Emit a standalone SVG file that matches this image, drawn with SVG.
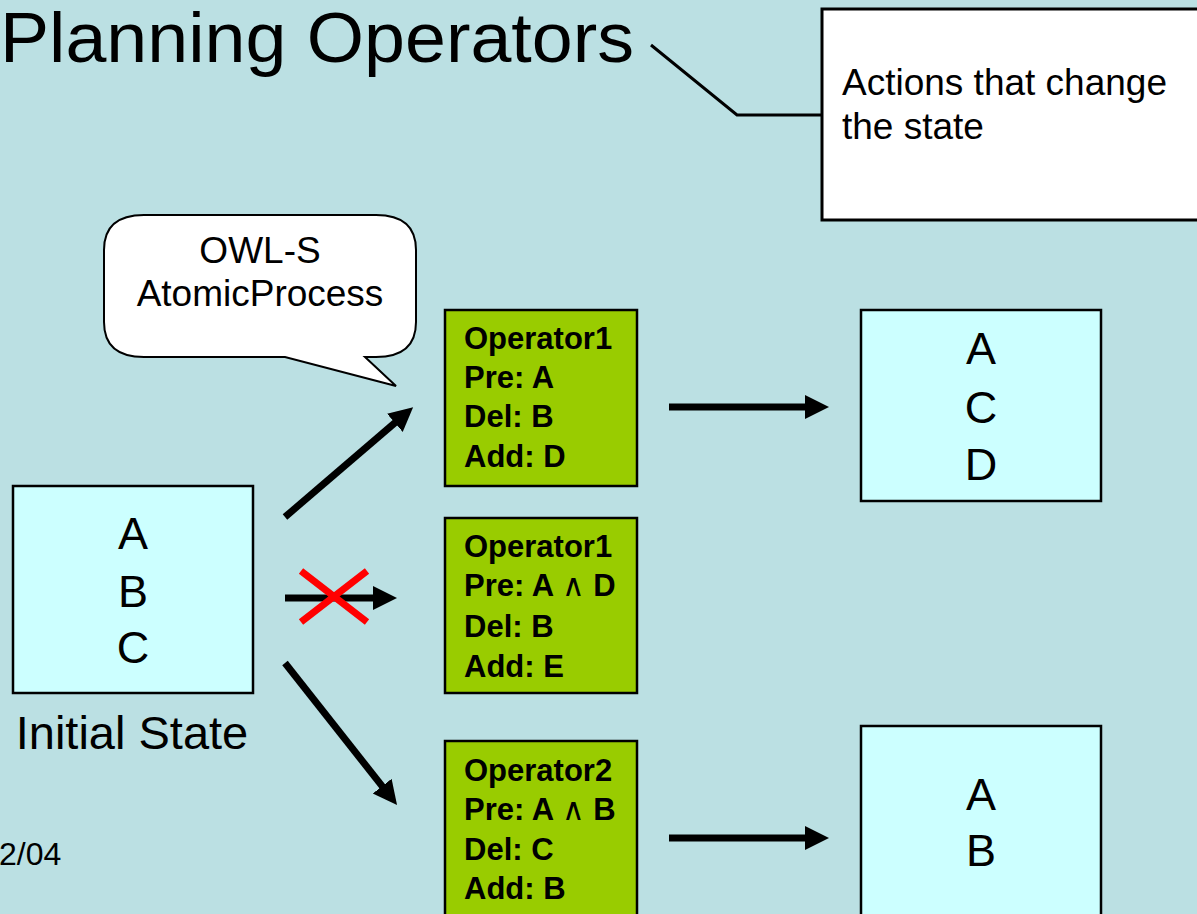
<svg xmlns="http://www.w3.org/2000/svg" width="1197" height="914" viewBox="0 0 1197 914">
<style>
.t{font-family:"Liberation Sans",Arial,sans-serif;fill:#000}
.op{font-family:"Liberation Sans",Arial,sans-serif;font-weight:bold;font-size:31px;fill:#000}
.sym{font-weight:normal}
.st{fill:#ccffff;stroke:#000;stroke-width:2.5}
.opbox{fill:#99cc00;stroke:#000;stroke-width:2.5}
.arr{stroke:#000;stroke-width:7;fill:none;marker-end:url(#ah)}
.big{font-size:45px;text-anchor:middle}
</style>
<defs>
<marker id="ah" markerUnits="userSpaceOnUse" markerWidth="26" markerHeight="26" refX="12" refY="12" orient="auto">
<path d="M0,0 L24,12 L0,24 Z" fill="#000"/>
</marker>
</defs>
<rect width="1197" height="914" fill="#bbe0e3"/>
<g id="title">
<text class="t" x="0" y="62" font-size="70" textLength="634" lengthAdjust="spacingAndGlyphs">Planning Operators</text>
</g>
<g id="callout-actions">
<polyline points="651,45 737,115 822,115" fill="none" stroke="#000" stroke-width="3"/>
<rect x="822" y="9" width="390" height="211" fill="#fff" stroke="#000" stroke-width="3"/>
<text class="t" x="842" y="95" font-size="37">Actions that change</text>
<text class="t" x="842" y="139" font-size="37">the state</text>
</g>
<g id="bubble-owls">
<path d="M144,215 H376 Q416,215 416,250 V322 Q416,357 376,357 H365 L396,386 L285,357 H144 Q104,357 104,322 V250 Q104,215 144,215 Z" fill="#fff" stroke="#000" stroke-width="2"/>
<text class="t" x="260" y="263" font-size="37" text-anchor="middle">OWL-S</text>
<text class="t" x="260" y="306" font-size="37" text-anchor="middle">AtomicProcess</text>
</g>
<g id="initial-state">
<rect class="st" x="13" y="486" width="240" height="207"/>
<text class="t big" x="133" y="549">A</text>
<text class="t big" x="133" y="607">B</text>
<text class="t big" x="133" y="663">C</text>
<text class="t" x="132" y="749" font-size="47" text-anchor="middle">Initial State</text>
</g>
<g id="op1a">
<rect class="opbox" x="445" y="310" width="192" height="176"/>
<text class="op" x="464" y="349">Operator1</text>
<text class="op" x="464" y="388">Pre: A</text>
<text class="op" x="464" y="427">Del: B</text>
<text class="op" x="464" y="467">Add: D</text>
</g>
<g id="op1b">
<rect class="opbox" x="445" y="518" width="192" height="175"/>
<text class="op" x="464" y="557">Operator1</text>
<text class="op" x="464" y="596">Pre: A <tspan class="sym">∧</tspan> D</text>
<text class="op" x="464" y="637">Del: B</text>
<text class="op" x="464" y="677">Add: E</text>
</g>
<g id="op2">
<rect class="opbox" x="445" y="741" width="192" height="190"/>
<text class="op" x="464" y="781">Operator2</text>
<text class="op" x="464" y="820">Pre: A <tspan class="sym">∧</tspan> B</text>
<text class="op" x="464" y="860">Del: C</text>
<text class="op" x="464" y="899">Add: B</text>
</g>
<g id="result1">
<rect class="st" x="861" y="310" width="240" height="191"/>
<text class="t big" x="981" y="364">A</text>
<text class="t big" x="981" y="423">C</text>
<text class="t big" x="981" y="480">D</text>
</g>
<g id="result2">
<rect class="st" x="861" y="726" width="240" height="200"/>
<text class="t big" x="981" y="810">A</text>
<text class="t big" x="981" y="866">B</text>
</g>
<g id="footer">
<text class="t" x="-1" y="865" font-size="32">2/04</text>
</g>
<g id="connectors">
<line class="arr" x1="285" y1="517" x2="404" y2="415"/>
<line class="arr" x1="285" y1="598" x2="385" y2="598"/>
<line class="arr" x1="285" y1="663" x2="389.6" y2="795.6"/>
<line class="arr" x1="669" y1="407" x2="817" y2="407"/>
<line class="arr" x1="669" y1="838" x2="817" y2="838"/>
<g stroke="#ff0000" stroke-width="7">
<line x1="301" y1="571" x2="367" y2="622"/>
<line x1="367" y1="571" x2="301" y2="622"/>
</g>
</g>
</svg>
